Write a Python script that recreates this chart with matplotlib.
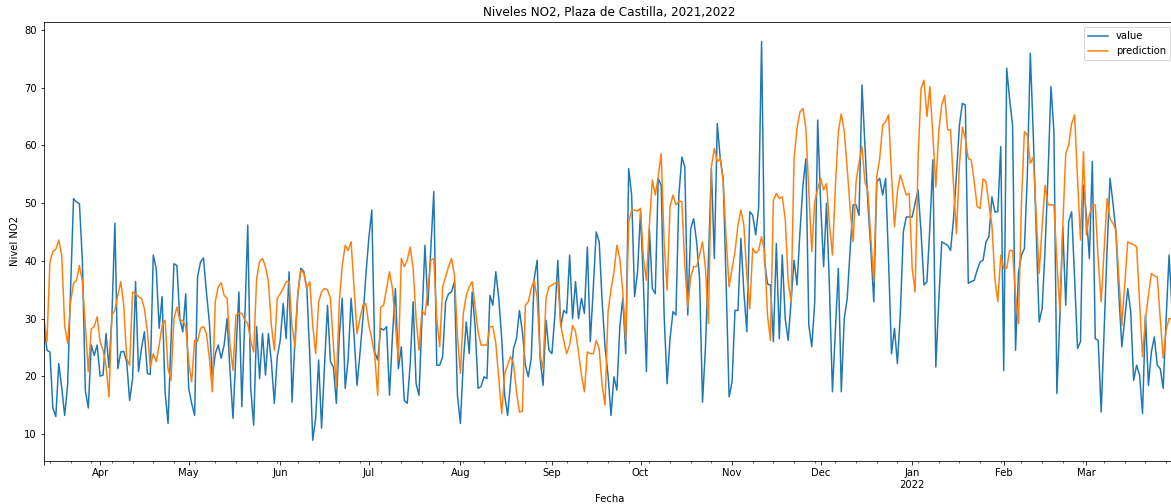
import pandas as pd
import matplotlib
matplotlib.use("Agg")
import matplotlib.pyplot as plt

# Daily NO2 at Plaza de Castilla: measured value vs. model prediction
start = "2021-03-13"

value = [
    29, 24.5, 24.2, 14.5, 13, 22.2, 18, 13.2, 18.5, 35,
    50.8, 50.2, 49.9, 40, 17.5, 14.5, 25.4, 23.6, 25.4, 20,
    20.2, 27.4, 21.5, 30.5, 46.5, 21.3, 24.2, 24.3, 22.5, 15.8,
    19.6, 36.4, 20.8, 24.8, 27.7, 20.5, 20.3, 41, 38.7, 28.3,
    33.8, 17.3, 11.8, 26, 39.5, 39.2, 30, 27.7, 34.3, 17.9,
    15.3, 13.2, 37.2, 39.8, 40.5, 34.6, 29.4, 19.6, 23.9, 25.4,
    23.1, 25.4, 30, 20.8, 12.7, 24, 34.6, 14.7, 30, 46.2,
    17.9, 11.5, 28.6, 19.6, 27.4, 20.2, 27.4, 22.5, 15.3, 23.4,
    26.2, 32.6, 26.5, 38.1, 15.5, 26.5, 34.6, 38.7, 38.1, 35.2,
    23.6, 8.9, 12.7, 22.8, 11, 21.9, 32.3, 22.5, 21.6, 15.3,
    27, 33.5, 17.9, 23, 33.5, 27, 18.4, 24, 30, 37.5,
    43.9, 48.8, 24.2, 22.8, 28.3, 28, 28.6, 16.7, 27, 35.2,
    21.3, 25.1, 15.8, 15.3, 22, 32.9, 18.7, 16.7, 30, 42.7,
    32.3, 42, 52, 21.9, 21.9, 23.4, 32.9, 34.3, 34.6, 36.4,
    16.7, 11.8, 22.5, 29.4, 23.9, 34.6, 28.6, 17.9, 18.2, 19.9,
    19.6, 34, 32.3, 38.1, 33.5, 26.5, 16.7, 13.2, 19, 24.8,
    26.5, 31.4, 27.7, 21.9, 19.9, 23.1, 36.9, 40.1, 23.1, 18.4,
    29.7, 24.5, 23.9, 30.6, 40.1, 28.6, 31.4, 30.9, 41, 30,
    36.4, 30, 33.5, 30.9, 42.4, 26, 35.2, 45, 43.3, 33,
    25, 20.2, 13.2, 19.9, 17.6, 28.6, 33.5, 23.9, 56, 51.4,
    33.8, 38.1, 48.5, 35.8, 20.8, 45.6, 35.2, 34.3, 54.3, 53.1,
    30.6, 18.7, 26.5, 31.2, 30.6, 51.4, 58, 56.3, 30.6, 45.6,
    47.3, 43.3, 36.9, 15.5, 25, 40, 56, 40.4, 63.8, 57.7,
    54.3, 36, 16.4, 19, 31.4, 31.4, 43.9, 34.6, 27.7, 48.5,
    47.9, 44.5, 49.1, 78, 40, 36, 35.8, 26, 43, 26.5,
    41, 30, 26.2, 33, 40.1, 35.8, 45, 53, 57.7, 28.8,
    25.1, 32.9, 64.4, 50, 39, 50, 35, 17.3, 28, 38.7,
    17.3, 30, 33.5, 42, 49.7, 49.7, 47.9, 70.5, 60, 50,
    42, 32.9, 53.7, 54.3, 51.4, 54.3, 40, 23.9, 28.3, 22.2,
    31, 45, 47.6, 47.6, 47.6, 50, 52.3, 45, 35.8, 36.4,
    46, 57.5, 21.6, 33, 43.3, 43, 42.7, 41.8, 47.3, 55,
    63.5, 67.3, 67, 36.1, 36.4, 36.6, 38.4, 39.8, 40.1, 43.3,
    44.2, 51.1, 48.5, 48.5, 59.8, 21, 73.4, 68, 63.5, 24.5,
    38, 41, 42.1, 55, 76, 62, 45, 29.4, 31.7, 42,
    55, 70.2, 62.4, 17, 30, 45.9, 32.3, 46.8, 48.5, 37,
    24.8, 26, 53.1, 48, 40.4, 57.2, 26.5, 26.2, 13.8, 28,
    42, 54.3, 50, 45, 34, 25.1, 30, 35.2, 31.2, 19.3,
    21.9, 20.2, 13.5, 30.6, 18.4, 24.2, 26.8, 21.9, 21.3, 17.9,
    30, 41, 31.4, 45,
]

prediction = [
    30, 26, 39.8, 41.6, 42, 43.6, 41, 28.8, 25.7, 32.9,
    36.1, 36.6, 39.2, 36.4, 28.8, 20.8, 28.2, 28.6, 30.3, 26,
    24.5, 21.9, 16.4, 30.6, 31.4, 34, 36.4, 32.3, 23.1, 21.9,
    34.6, 34.3, 33.8, 33.5, 31.7, 27.7, 21.6, 23.9, 22.5, 25.4,
    28.8, 29.7, 21.3, 19.3, 30, 32, 29.7, 29.7, 28.6, 22.5,
    19, 26.2, 26, 28.3, 28.6, 27.4, 23.1, 17.3, 32.9, 35.5,
    36.2, 34, 33.5, 25.4, 21, 30.6, 30.9, 30.9, 29.7, 29.1,
    26.2, 24.2, 36.9, 39.9, 40.4, 39, 36.4, 28.8, 24.5, 33.5,
    34.3, 35.2, 36.4, 36.4, 28.6, 25.1, 34.6, 38.4, 37.8, 35.2,
    36.4, 28.8, 23.9, 32.9, 34.6, 35.2, 35, 33.5, 25.4, 18.2,
    32.9, 39.2, 42.7, 41.8, 43.3, 35.2, 27.4, 30, 32.3, 32.6,
    28.8, 26.5, 23.6, 16.7, 32, 32.3, 35.2, 38.1, 35.2, 29,
    22.8, 40.4, 39, 40.1, 42.4, 38.7, 30, 24.5, 31.4, 30.6,
    35, 40.1, 40.4, 30, 25.1, 35.5, 37.2, 39, 40.4, 37.5,
    27.1, 20.5, 30.9, 34, 35.5, 36.4, 32, 27.7, 25.4, 25.4,
    25.4, 28.6, 28.6, 25.7, 19.6, 13.5, 20.5, 21.9, 23.4, 22.2,
    17.3, 13.8, 13.9, 32.3, 32.9, 35.2, 36.6, 33.5, 23.6, 21.3,
    33.5, 35.5, 35.8, 36.1, 36.4, 28.8, 26.2, 23.9, 25.4, 28.8,
    27.7, 24.2, 20.2, 17.3, 24.2, 23.9, 23.9, 26.2, 24.8, 18.4,
    15, 31.2, 35, 38, 42.7, 40.4, 34.6, 26.2, 46.8, 48.8,
    48.8, 48.6, 49.1, 40.4, 36.6, 46.2, 54, 51.4, 54.6, 58.6,
    43.3, 34.9, 49.4, 51.4, 49.7, 50.3, 50.3, 39.2, 32, 37.2,
    39, 39, 41, 43.3, 38.7, 29.1, 56.3, 59.5, 57.2, 57.7,
    53.7, 43.9, 35.5, 38.7, 41.6, 46.2, 48.8, 46.2, 37.5, 31.7,
    42.2, 41.3, 41.8, 44.2, 41.6, 30.6, 26.2, 50.5, 51.7, 50.8,
    51.1, 47.3, 36.4, 32.9, 57.7, 62.9, 65.8, 66.4, 63, 52,
    41.6, 50.2, 52.5, 54.3, 52.3, 53.4, 46.2, 41, 53, 62.4,
    65.5, 62.4, 56, 49, 43.3, 53.7, 57, 59.8, 53.7, 52,
    43.9, 36.4, 54.6, 57.7, 63.5, 64.1, 65.3, 55, 45.9, 52,
    54.9, 53.1, 51.4, 51.7, 38.7, 34.6, 57.7, 69.9, 71.3, 65,
    70.2, 61.8, 52.8, 62.4, 67, 68.7, 62.7, 62.7, 53.1, 44.7,
    56.6, 63.2, 61.2, 57.7, 57.5, 53.7, 49.4, 49.1, 54.2, 53.7,
    49.7, 46.2, 36.9, 32.9, 41, 38.7, 38.7, 41.8, 41.8, 34,
    29.1, 50, 62.4, 61.8, 56.9, 58, 48, 37.8, 46, 53.1,
    49.7, 49.7, 49.7, 40, 31.2, 46, 58.6, 60.1, 63.8, 65.3,
    54, 43.6, 58.9, 44.5, 48, 49.7, 49.7, 40, 32.9, 42,
    50.8, 47.3, 46.5, 45.3, 37, 28.8, 36, 43.3, 43, 42.8,
    42.4, 33, 23.4, 30, 34, 37.8, 37.4, 37.2, 30, 23.1,
    28, 30, 30, 30,
]

fechas = pd.date_range(start, periods=len(value), freq="D")
df = pd.DataFrame({"value": value, "prediction": prediction}, index=fechas)
df.index.name = "Fecha"

# notebook-style output at 72 dpi
fig = plt.figure(figsize=(1171 / 72, 504 / 72), dpi=72)
ax = fig.add_axes([44 / 1171, 1 - 461 / 504, 1131 / 1171, 439 / 504])
df.plot(ax=ax)
ax.set_ylim(5.3, 81.4)
ax.set_title("Niveles NO2, Plaza de Castilla, 2021,2022")
ax.set_xlabel("Fecha")
ax.set_ylabel("Nivel NO2")
ax.legend(loc="upper right")

fig.savefig("out.png", dpi=72)
